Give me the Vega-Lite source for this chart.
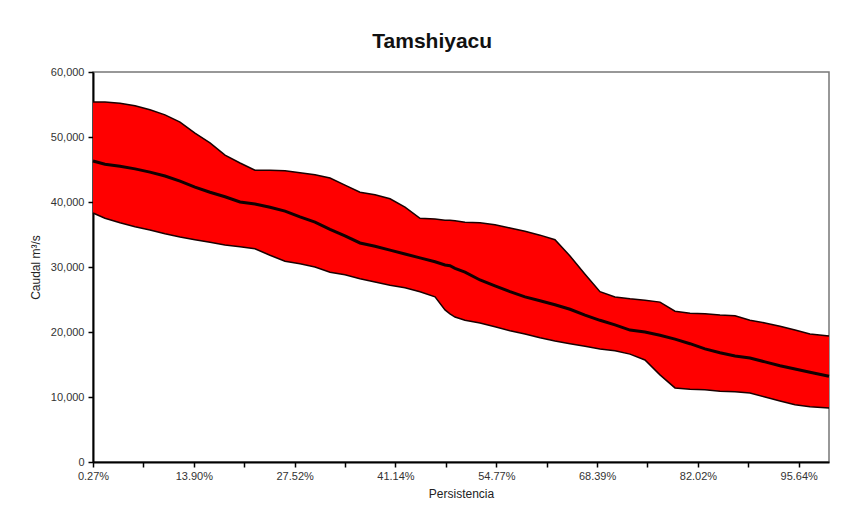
{
  "$schema": "https://vega.github.io/schema/vega-lite/v6.json",
  "autosize": "none",
  "width": 736,
  "height": 390,
  "padding": {"left": 93, "top": 72, "right": 23, "bottom": 58},
  "background": "white",
  "title": {
    "text": "Tamshiyacu",
    "font": "Liberation Sans",
    "fontSize": 21,
    "fontWeight": "bold",
    "color": "#111111",
    "anchor": "middle",
    "frame": "bounds",
    "offset": 14
  },
  "config": {
    "view": {"stroke": "#777777", "strokeWidth": 1.5},
    "axis": {
      "labelFont": "Liberation Sans",
      "labelFontSize": 11,
      "labelColor": "#333333",
      "titleFont": "Liberation Sans",
      "titleFontSize": 12,
      "titleFontWeight": "normal",
      "titleColor": "#222222",
      "domainColor": "#000000",
      "domainWidth": 2,
      "tickColor": "#000000",
      "tickWidth": 1.5,
      "tickSize": 5,
      "grid": false
    }
  },
  "data": {
    "values": [
      {"p": 0.27, "upper": 55400, "mean": 46300, "lower": 38300},
      {"p": 1.89, "upper": 55400, "mean": 45800, "lower": 37500},
      {"p": 3.92, "upper": 55200, "mean": 45500, "lower": 36800},
      {"p": 5.95, "upper": 54800, "mean": 45100, "lower": 36200},
      {"p": 7.97, "upper": 54200, "mean": 44600, "lower": 35700},
      {"p": 10.0, "upper": 53400, "mean": 44000, "lower": 35100},
      {"p": 12.03, "upper": 52300, "mean": 43200, "lower": 34600},
      {"p": 14.05, "upper": 50600, "mean": 42300, "lower": 34200},
      {"p": 16.08, "upper": 49100, "mean": 41500, "lower": 33800},
      {"p": 18.11, "upper": 47200, "mean": 40800, "lower": 33400},
      {"p": 20.14, "upper": 46000, "mean": 40000, "lower": 33100},
      {"p": 22.16, "upper": 44900, "mean": 39700, "lower": 32800},
      {"p": 24.19, "upper": 44900, "mean": 39200, "lower": 31800},
      {"p": 26.22, "upper": 44800, "mean": 38600, "lower": 30900},
      {"p": 28.24, "upper": 44500, "mean": 37700, "lower": 30500},
      {"p": 30.27, "upper": 44200, "mean": 36900, "lower": 30000},
      {"p": 32.30, "upper": 43700, "mean": 35800, "lower": 29200},
      {"p": 34.32, "upper": 42600, "mean": 34800, "lower": 28800},
      {"p": 36.35, "upper": 41500, "mean": 33700, "lower": 28200},
      {"p": 38.38, "upper": 41100, "mean": 33200, "lower": 27700},
      {"p": 40.41, "upper": 40500, "mean": 32600, "lower": 27200},
      {"p": 42.43, "upper": 39200, "mean": 32000, "lower": 26800},
      {"p": 44.46, "upper": 37500, "mean": 31400, "lower": 26200},
      {"p": 46.49, "upper": 37400, "mean": 30800, "lower": 25400},
      {"p": 47.84, "upper": 37200, "mean": 30300, "lower": 23400},
      {"p": 48.51, "upper": 37200, "mean": 30200, "lower": 22800},
      {"p": 49.19, "upper": 37100, "mean": 29800, "lower": 22300},
      {"p": 50.54, "upper": 36900, "mean": 29200, "lower": 21800},
      {"p": 52.57, "upper": 36800, "mean": 28000, "lower": 21400},
      {"p": 54.59, "upper": 36500, "mean": 27100, "lower": 20800},
      {"p": 56.62, "upper": 36000, "mean": 26200, "lower": 20200},
      {"p": 58.65, "upper": 35500, "mean": 25400, "lower": 19700},
      {"p": 60.68, "upper": 34900, "mean": 24800, "lower": 19100},
      {"p": 62.70, "upper": 34200, "mean": 24200, "lower": 18600},
      {"p": 64.73, "upper": 31700, "mean": 23500, "lower": 18200},
      {"p": 66.76, "upper": 28900, "mean": 22600, "lower": 17800},
      {"p": 68.78, "upper": 26200, "mean": 21800, "lower": 17400},
      {"p": 70.81, "upper": 25400, "mean": 21100, "lower": 17100},
      {"p": 72.84, "upper": 25100, "mean": 20300, "lower": 16600},
      {"p": 74.86, "upper": 24900, "mean": 20000, "lower": 15700},
      {"p": 76.89, "upper": 24600, "mean": 19500, "lower": 13400},
      {"p": 78.92, "upper": 23200, "mean": 18900, "lower": 11400},
      {"p": 80.95, "upper": 22900, "mean": 18200, "lower": 11200},
      {"p": 82.97, "upper": 22800, "mean": 17400, "lower": 11100},
      {"p": 85.00, "upper": 22600, "mean": 16800, "lower": 10900},
      {"p": 87.03, "upper": 22500, "mean": 16300, "lower": 10800},
      {"p": 89.05, "upper": 21800, "mean": 16000, "lower": 10600},
      {"p": 91.08, "upper": 21400, "mean": 15400, "lower": 10000},
      {"p": 93.11, "upper": 20900, "mean": 14800, "lower": 9400},
      {"p": 95.14, "upper": 20300, "mean": 14300, "lower": 8800},
      {"p": 97.16, "upper": 19700, "mean": 13800, "lower": 8500},
      {"p": 99.73, "upper": 19400, "mean": 13200, "lower": 8300}
    ]
  },
  "encoding": {
    "x": {
      "field": "p",
      "type": "quantitative",
      "scale": {"domain": [0.27, 99.73], "nice": false, "zero": false},
      "axis": {
        "title": "Persistencia",
        "values": [0.27, 7.08, 13.90, 20.71, 27.52, 34.33, 41.14, 47.96, 54.77, 61.58, 68.39, 75.20, 82.02, 88.83, 95.64],
        "labelExpr": "indexof([0.27, 13.9, 27.52, 41.14, 54.77, 68.39, 82.02, 95.64], datum.value) >= 0 ? format(datum.value, '.2f') + '%' : ''",
        "labelFlush": false,
        "labelOverlap": false,
        "labelPadding": 3,
        "titlePadding": 7
      }
    }
  },
  "layer": [
    {
      "mark": {"type": "area", "color": "#ff0000", "opacity": 1},
      "encoding": {
        "y": {
          "field": "upper",
          "type": "quantitative",
          "scale": {"domain": [0, 60000], "nice": false},
          "axis": {
            "title": "Caudal m³/s",
            "values": [0, 10000, 20000, 30000, 40000, 50000, 60000],
            "format": ",d",
            "labelPadding": 4,
            "titlePadding": 8
          }
        },
        "y2": {"field": "lower"}
      }
    },
    {
      "mark": {"type": "line", "color": "#1a0000", "strokeWidth": 1.5},
      "encoding": {"y": {"field": "upper", "type": "quantitative"}}
    },
    {
      "mark": {"type": "line", "color": "#1a0000", "strokeWidth": 1.5},
      "encoding": {"y": {"field": "lower", "type": "quantitative"}}
    },
    {
      "mark": {"type": "line", "color": "#110000", "strokeWidth": 3},
      "encoding": {"y": {"field": "mean", "type": "quantitative"}}
    }
  ]
}
